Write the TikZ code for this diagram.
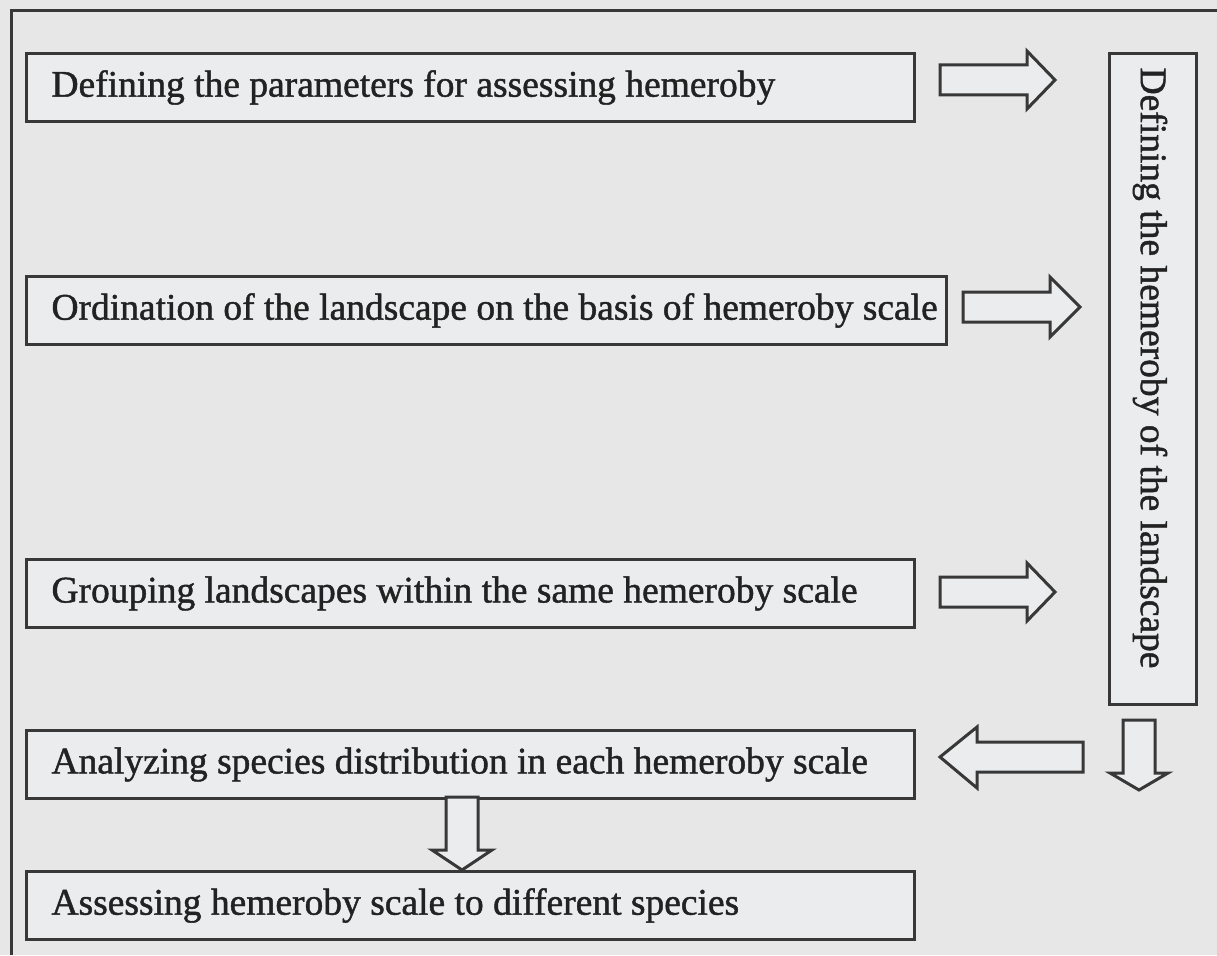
\documentclass[tikz,border=0pt]{standalone}
\usepackage{fontspec}
\setmainfont{Liberation Serif}
\newfontfamily\heavyserif{Liberation Serif}[FakeBold=1.2]
\definecolor{bgc}{HTML}{E7E7E7}
\definecolor{boxfill}{HTML}{EBECED}
\definecolor{ink}{HTML}{383838}
\definecolor{txt}{HTML}{222222}
\begin{document}
\begin{tikzpicture}[x=1pt,y=-1pt,
  stepbox/.style={draw=ink,line width=3pt,fill=boxfill,rectangle,anchor=north west,
    inner xsep=25pt,inner ysep=0pt,minimum height=68pt,text=txt,
    font=\heavyserif\fontsize{37.5}{40}\selectfont},
  blockarrow/.style={draw=ink,line width=3pt,fill=boxfill,line join=miter},
  frameline/.style={draw=ink,line width=3pt}]
\useasboundingbox[fill=bgc] (0,0) rectangle (1217,955);
% outer frame (cut off at right and bottom)
\draw[frameline] (11,955) -- (11,11) -- (1217,11);
% boxes
\node[stepbox,minimum width=888pt] (b1) at (25,52) {\makebox[838pt][l]{Defining the parameters for assessing hemeroby}};
\node[stepbox,minimum width=920pt] (b2) at (25,275) {\makebox[870pt][l]{Ordination of the landscape on the basis of hemeroby scale}};
\node[stepbox,minimum width=888pt] (b3) at (25,558) {\makebox[838pt][l]{Grouping landscapes within the same hemeroby scale}};
\node[stepbox,minimum width=888pt] (b4) at (25,729) {\makebox[838pt][l]{Analyzing species distribution in each hemeroby scale}};
\node[stepbox,minimum width=888pt] (b5) at (25,870) {\makebox[838pt][l]{Assessing hemeroby scale to different species}};
% vertical box
\node[draw=ink,line width=3pt,fill=boxfill,rectangle,anchor=north west,
  minimum width=87pt,minimum height=651pt,inner sep=0pt] (v) at (1108,52) {};
\node[rotate=-90,text=txt,font=\heavyserif\fontsize{37.5}{40}\selectfont] (vt) at (1150,368) {Defining the hemeroby of the landscape};
% right arrows
\draw[blockarrow] (940,65) -- (1027,65) -- (1027,51) -- (1055,80) -- (1027,109) -- (1027,95) -- (940,95) -- cycle;
\draw[blockarrow] (963,292) -- (1050,292) -- (1050,277) -- (1080,307) -- (1050,337) -- (1050,322) -- (963,322) -- cycle;
\draw[blockarrow] (940,577) -- (1027,577) -- (1027,563) -- (1055,592) -- (1027,621) -- (1027,607) -- (940,607) -- cycle;
% left arrow
\draw[blockarrow] (1083,742) -- (977,742) -- (977,727) -- (940,757) -- (977,788) -- (977,772) -- (1083,772) -- cycle;
% down arrow under vertical box
\draw[blockarrow] (1123,720) -- (1155,720) -- (1155,773) -- (1168,773) -- (1139,790) -- (1110,773) -- (1123,773) -- cycle;
% down arrow between b4 and b5
\draw[blockarrow] (446,797) -- (478,797) -- (478,850) -- (492,850) -- (462,870) -- (432,850) -- (446,850) -- cycle;
\end{tikzpicture}
\end{document}
